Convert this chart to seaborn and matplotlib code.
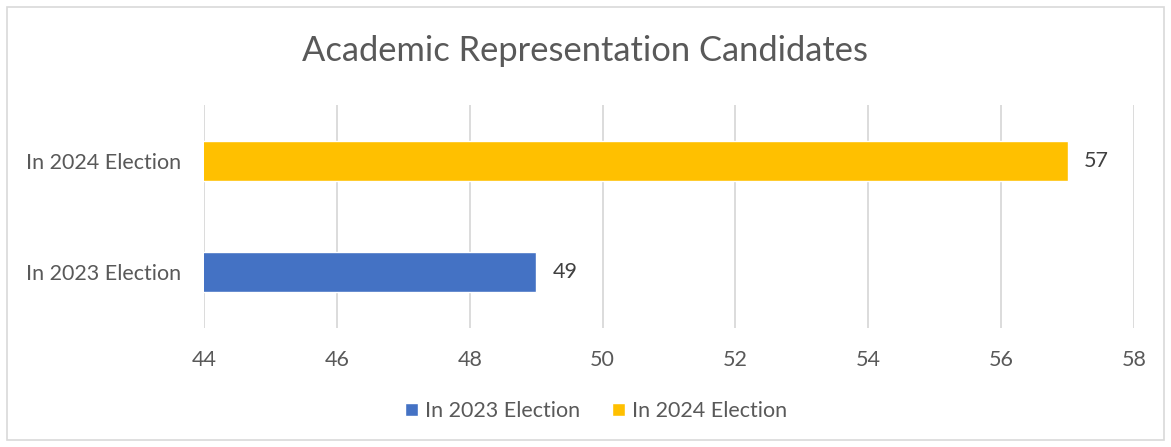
import matplotlib
matplotlib.use("Agg")
import matplotlib.pyplot as plt
import seaborn as sns
import pandas as pd
from matplotlib.patches import Patch, Rectangle

categories = ["In 2023 Election", "In 2024 Election"]
values = [49, 57]
colors = ["#4472C4", "#FFC000"]
title = "Academic Representation Candidates"
xticks = [44, 46, 48, 50, 52, 54, 56, 58]

sns.set_theme(style="white")
plt.rcParams["font.family"] = ["Lato", "DejaVu Sans"]
TXT = "#595959"

df = pd.DataFrame({"cat": categories, "val": values})

fig = plt.figure(figsize=(11.71, 4.47), dpi=100)
ax = fig.add_axes([0.1742, 0.2662, 0.9684 - 0.1742, 0.765 - 0.2662])

order = categories[::-1]
sns.barplot(data=df, y="cat", x="val", hue="cat", order=order,
            hue_order=categories, palette=colors, orient="h",
            width=0.36, dodge=False, legend=False, ax=ax, saturation=1)

ax.set_xlim(44, 58)
ax.set_ylim(1.5, -0.5)
ax.set_xticks(xticks)
ax.grid(axis="x", color="#D9D9D9", linewidth=1.3)
ax.set_axisbelow(True)
for s in ax.spines.values():
    s.set_visible(False)
ax.set_xlabel("")
ax.set_ylabel("")
ax.tick_params(axis="both", length=0, labelsize=15.5, labelcolor=TXT)
ax.tick_params(axis="x", pad=16)
ax.tick_params(axis="y", pad=16.5)

for c in ax.containers:
    ax.bar_label(c, fmt="%d", padding=12, fontsize=15.5, color="#404040")

fig.text(0.5, 1 - 51 / 447, title, ha="center", va="center",
         fontsize=24.8, color=TXT)

handles = [Patch(facecolor=col, label=cat) for cat, col in zip(categories, colors)]
fig.legend(handles=handles, loc="center", bbox_to_anchor=(596 / 1171, 1 - 411 / 447),
           ncol=2, frameon=False, fontsize=15.5, labelcolor=TXT,
           handlelength=0.6, handleheight=0.6, handletextpad=0.3,
           columnspacing=1.5)

fig.patches.append(Rectangle((7 / 1171, 7 / 447), 1 - 14 / 1171, 1 - 14 / 447,
                             transform=fig.transFigure, fill=False,
                             edgecolor="#D9D9D9", linewidth=1.2))

fig.savefig("out.png", dpi=100, facecolor="white")
